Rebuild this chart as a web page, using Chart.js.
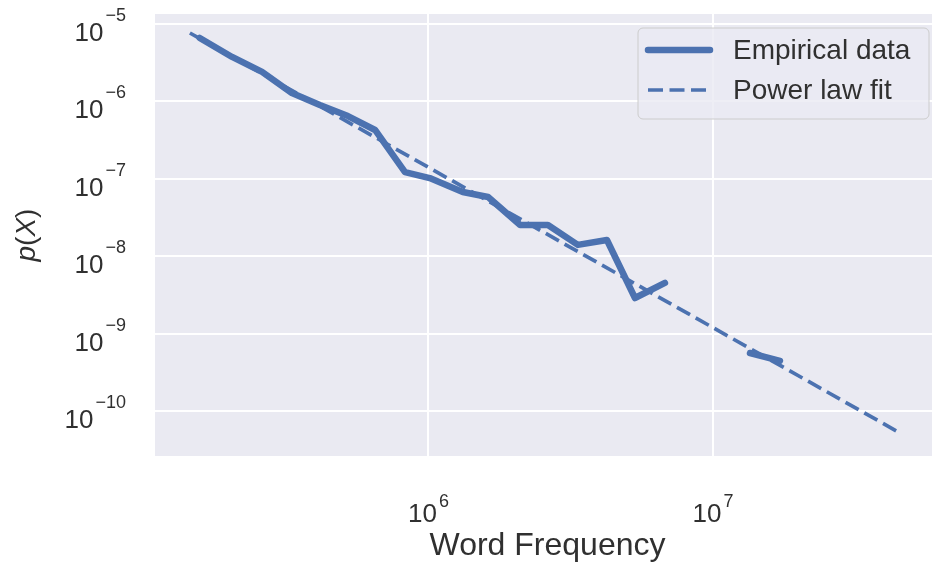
<!DOCTYPE html>
<html>
<head>
<meta charset="utf-8">
<script src="https://cdn.jsdelivr.net/npm/chart.js@4"></script>
<style>
  html, body { margin: 0; padding: 0; background: #fff; }
  #wrap { width: 933px; height: 569px; }
</style>
</head>
<body>
<div id="wrap"><canvas id="chart" width="933" height="569"></canvas></div>
<script>
// values (log-log)
const empFreq = [157000, 204000, 260000, 331000, 415000, 521000, 649000, 827000, 1010000, 1320000,
                 1620000, 2100000, 2630000, 3350000, 4240000, 5320000, 6780000, 9500000,
                 13500000, 15200000, 17200000];
const empProb = [6.6e-6, 3.75e-6, 2.4e-6, 1.28e-6, 8.98e-7, 6.47e-7, 4.27e-7, 1.22e-7, 1.02e-7, 6.75e-8,
                 5.82e-8, 2.53e-8, 2.53e-8, 1.4e-8, 1.62e-8, 2.88e-9, 4.51e-9, null,
                 5.61e-10, 4.99e-10, 4.43e-10];
const fitFreq = [145000, 46100000];
const fitProb = [7.65e-6, 5.05e-11];

const xTickValues = [1e6, 1e7];
const xTickExp = ['6', '7'];
const yTickValues = [1e-10, 1e-9, 1e-8, 1e-7, 1e-6, 1e-5];
const yTickExp = ['\u221210', '\u22129', '\u22128', '\u22127', '\u22126', '\u22125'];
const seriesNames = ['Empirical data', 'Power law fit'];

const BLUE = '#4C72B0';
const TEXT = '#303030';
const FONT = '"Liberation Sans", Arial, sans-serif';

const toPoints = (xs, ys) => xs.map((x, i) => ({ x, y: ys[i] }));

function drawPower(ctx, exp, x, baseline, align, rise) {
    ctx.font = '26px ' + FONT;
    const w1 = ctx.measureText('10').width;
    ctx.font = '18px ' + FONT;
    const w2 = ctx.measureText(exp).width;
    const total = w1 + 2 + w2;
    const left = align === 'center' ? x - total / 2 : x - total;
    ctx.textAlign = 'left';
    ctx.textBaseline = 'alphabetic';
    ctx.font = '26px ' + FONT;
    ctx.fillText('10', left, baseline);
    ctx.font = '18px ' + FONT;
    ctx.fillText(exp, left + w1 + 2, baseline - rise);
}

const backdrop = {
    id: 'backdrop',
    beforeDraw(chart) {
        const { ctx, chartArea: a } = chart;
        ctx.save();
        ctx.fillStyle = '#EAEAF2';
        ctx.fillRect(a.left, a.top, a.right - a.left, a.bottom - a.top);
        ctx.restore();
    }
};

const decorations = {
    id: 'decorations',
    afterDraw(chart) {
        const { ctx, chartArea: a, scales } = chart;
        ctx.save();
        ctx.fillStyle = TEXT;

        // tick labels as 10^n
        xTickValues.forEach((v, i) => {
            drawPower(ctx, xTickExp[i], scales.x.getPixelForValue(v), a.bottom + 66, 'center', 15);
        });
        yTickValues.forEach((v, i) => {
            drawPower(ctx, yTickExp[i], 126, scales.y.getPixelForValue(v) + 17, 'right', 20);
        });

        // axis titles
        ctx.font = '32px ' + FONT;
        ctx.textAlign = 'center';
        ctx.textBaseline = 'alphabetic';
        ctx.fillText('Word Frequency', (a.left + a.right) / 2 + 4, a.bottom + 99);

        ctx.translate(27, (a.top + a.bottom) / 2);
        ctx.rotate(-Math.PI / 2);
        const parts = [['p', 'italic '], ['(', ''], ['X', 'italic '], [')', '']];
        let w = 0;
        parts.forEach(([t, s]) => { ctx.font = s + '28px ' + FONT; w += ctx.measureText(t).width; });
        let px = -w / 2;
        ctx.textAlign = 'left';
        ctx.textBaseline = 'middle';
        parts.forEach(([t, s]) => {
            ctx.font = s + '28px ' + FONT;
            ctx.fillText(t, px, 0);
            px += ctx.measureText(t).width;
        });
        ctx.setTransform(1, 0, 0, 1, 0, 0);

        // legend box
        const bx = 638, by = 28, bw = 291, bh = 91;
        ctx.beginPath();
        ctx.roundRect(bx, by, bw, bh, 5);
        ctx.fillStyle = 'rgba(234,234,242,0.8)';
        ctx.fill();
        ctx.strokeStyle = '#cccccc';
        ctx.lineWidth = 1;
        ctx.stroke();

        chart.data.datasets.forEach((ds, i) => {
            const y = by + 22 + i * 40;
            ctx.beginPath();
            ctx.strokeStyle = ds.borderColor;
            ctx.lineWidth = ds.borderWidth;
            ctx.lineCap = ds.borderCapStyle;
            ctx.setLineDash(ds.borderDash || []);
            ctx.moveTo(bx + 10, y);
            ctx.lineTo(bx + 72, y);
            ctx.stroke();
            ctx.setLineDash([]);
            ctx.fillStyle = TEXT;
            ctx.font = '28px ' + FONT;
            ctx.textAlign = 'left';
            ctx.textBaseline = 'middle';
            ctx.fillText(ds.label, 733, y + 1);
        });
        ctx.restore();
    }
};

const decadeTicks = values => scale => { scale.ticks = values.map(value => ({ value })); };

new Chart(document.getElementById('chart'), {
    type: 'line',
    data: {
        datasets: [{
            label: seriesNames[0],
            data: toPoints(empFreq, empProb),
            borderColor: BLUE,
            borderWidth: 6.5,
            borderCapStyle: 'round',
            borderJoinStyle: 'round',
            pointRadius: 0,
            tension: 0,
            spanGaps: false
        }, {
            label: seriesNames[1],
            data: toPoints(fitFreq, fitProb),
            borderColor: BLUE,
            borderWidth: 3.7,
            borderCapStyle: 'butt',
            borderDash: [15, 6.5],
            pointRadius: 0,
            tension: 0
        }]
    },
    options: {
        responsive: false,
        animation: false,
        layout: { padding: { left: 155, right: 1, top: 14, bottom: 113 } },
        plugins: { legend: { display: false }, tooltip: { enabled: false } },
        scales: {
            x: {
                type: 'logarithmic',
                min: 109300, max: 5.89e7,
                afterBuildTicks: decadeTicks(xTickValues),
                ticks: { display: false },
                grid: { color: '#ffffff', lineWidth: 2, drawTicks: false },
                border: { display: false }
            },
            y: {
                type: 'logarithmic',
                min: 2.62e-11, max: 1.346e-5,
                afterBuildTicks: decadeTicks(yTickValues),
                ticks: { display: false },
                grid: { color: '#ffffff', lineWidth: 2, drawTicks: false },
                border: { display: false }
            }
        }
    },
    plugins: [backdrop, decorations]
});
</script>
</body>
</html>
